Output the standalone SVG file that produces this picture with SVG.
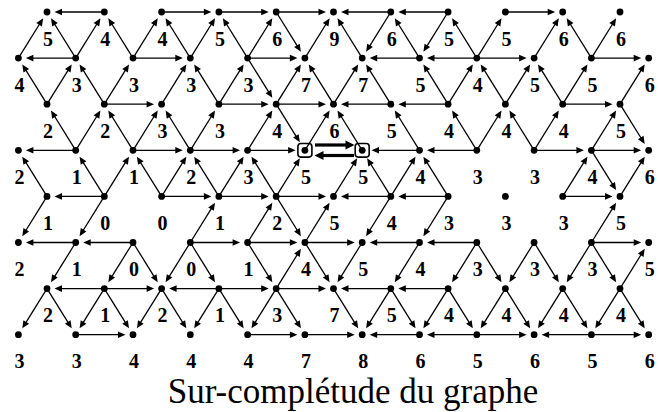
<svg xmlns="http://www.w3.org/2000/svg" width="658" height="412" viewBox="0 0 658 412">
<style>
.n circle{fill:#000}
.n text{font-family:"Liberation Serif","Times New Roman",serif;font-weight:bold;font-size:20px;text-anchor:middle;fill:#000}
.title{font-family:"Liberation Serif","Times New Roman",serif;font-size:35px;text-anchor:middle;fill:#000}
.box{fill:none;stroke:#000;stroke-width:1.6}
</style>
<defs>
<g id="h"><line x1="0" y1="0" x2="44" y2="0" stroke="#000" stroke-width="1.3"/><path d="M49.8 0L42.3 -3.3L42.3 3.3Z" fill="#000"/></g>
<g id="h2"><line x1="0" y1="0" x2="42" y2="0" stroke="#000" stroke-width="1.3"/><path d="M48 0L40.5 -3.3L40.5 3.3Z" fill="#000"/></g>
<g id="d"><line x1="0" y1="0" x2="41" y2="0" stroke="#000" stroke-width="1.3"/><path d="M46.8 0L39.3 -3.3L39.3 3.3Z" fill="#000"/></g>
<g id="d2"><line x1="0" y1="0" x2="39" y2="0" stroke="#000" stroke-width="1.3"/><path d="M44.8 0L37.3 -3.3L37.3 3.3Z" fill="#000"/></g>
</defs>
<rect width="658" height="412" fill="#fff"/>
<g id="connectors">
<use href="#h" transform="translate(104.3,12) rotate(180)"/>
<use href="#h" transform="translate(161.6,12)"/>
<use href="#h" transform="translate(218.9,12)"/>
<use href="#h" transform="translate(276.2,12)"/>
<use href="#h" transform="translate(390.8,12) rotate(180)"/>
<use href="#h" transform="translate(448.1,12) rotate(180)"/>
<use href="#h" transform="translate(505.4,12)"/>
<use href="#d" transform="translate(18.4,58.1) rotate(-58.14)"/>
<use href="#d" transform="translate(75.7,58.1) rotate(-121.86)"/>
<use href="#d" transform="translate(75.7,58.1) rotate(-58.14)"/>
<use href="#d" transform="translate(133,58.1) rotate(-121.86)"/>
<use href="#d" transform="translate(133,58.1) rotate(-58.14)"/>
<use href="#d" transform="translate(190.3,58.1) rotate(-121.86)"/>
<use href="#d" transform="translate(190.3,58.1) rotate(-58.14)"/>
<use href="#d" transform="translate(247.6,58.1) rotate(-121.86)"/>
<use href="#d" transform="translate(247.6,58.1) rotate(-58.14)"/>
<use href="#d" transform="translate(276.2,12) rotate(58.14)"/>
<use href="#d" transform="translate(304.9,58.1) rotate(-58.14)"/>
<use href="#d" transform="translate(362.2,58.1) rotate(-121.86)"/>
<use href="#d" transform="translate(390.8,12) rotate(121.86)"/>
<use href="#d" transform="translate(419.5,58.1) rotate(-121.86)"/>
<use href="#d" transform="translate(448.1,12) rotate(121.86)"/>
<use href="#d" transform="translate(476.8,58.1) rotate(-121.86)"/>
<use href="#d" transform="translate(476.8,58.1) rotate(-58.14)"/>
<use href="#d" transform="translate(534.1,58.1) rotate(-58.14)"/>
<use href="#d" transform="translate(591.4,58.1) rotate(-121.86)"/>
<use href="#d" transform="translate(591.4,58.1) rotate(-58.14)"/>
<use href="#h" transform="translate(75.7,58.1) rotate(180)"/>
<use href="#h" transform="translate(133,58.1)"/>
<use href="#h" transform="translate(247.6,58.1)"/>
<use href="#h" transform="translate(419.5,58.1) rotate(180)"/>
<use href="#h" transform="translate(476.8,58.1) rotate(180)"/>
<use href="#h" transform="translate(476.8,58.1)"/>
<use href="#h" transform="translate(591.4,58.1)"/>
<use href="#d" transform="translate(47,104.2) rotate(-121.86)"/>
<use href="#d" transform="translate(47,104.2) rotate(-58.14)"/>
<use href="#d" transform="translate(104.3,104.2) rotate(-121.86)"/>
<use href="#d" transform="translate(104.3,104.2) rotate(-58.14)"/>
<use href="#d" transform="translate(161.6,104.2) rotate(-58.14)"/>
<use href="#d" transform="translate(218.9,104.2) rotate(-121.86)"/>
<use href="#d" transform="translate(218.9,104.2) rotate(-58.14)"/>
<use href="#d" transform="translate(247.6,58.1) rotate(58.14)"/>
<use href="#d" transform="translate(276.2,104.2) rotate(-58.14)"/>
<use href="#d" transform="translate(333.5,104.2) rotate(-121.86)"/>
<use href="#d" transform="translate(333.5,104.2) rotate(-58.14)"/>
<use href="#d" transform="translate(390.8,104.2) rotate(-121.86)"/>
<use href="#d" transform="translate(448.1,104.2) rotate(-121.86)"/>
<use href="#d" transform="translate(448.1,104.2) rotate(-58.14)"/>
<use href="#d" transform="translate(505.4,104.2) rotate(-121.86)"/>
<use href="#d" transform="translate(505.4,104.2) rotate(-58.14)"/>
<use href="#d" transform="translate(562.7,104.2) rotate(-121.86)"/>
<use href="#d" transform="translate(562.7,104.2) rotate(-58.14)"/>
<use href="#d" transform="translate(620,104.2) rotate(-58.14)"/>
<use href="#h" transform="translate(104.3,104.2)"/>
<use href="#h" transform="translate(218.9,104.2)"/>
<use href="#h" transform="translate(276.2,104.2)"/>
<use href="#h" transform="translate(390.8,104.2) rotate(180)"/>
<use href="#h" transform="translate(448.1,104.2) rotate(180)"/>
<use href="#h" transform="translate(562.7,104.2)"/>
<use href="#d" transform="translate(75.7,150.3) rotate(-121.86)"/>
<use href="#d" transform="translate(75.7,150.3) rotate(-58.14)"/>
<use href="#d" transform="translate(133,150.3) rotate(-121.86)"/>
<use href="#d" transform="translate(133,150.3) rotate(-58.14)"/>
<use href="#d" transform="translate(190.3,150.3) rotate(-121.86)"/>
<use href="#d" transform="translate(190.3,150.3) rotate(-58.14)"/>
<use href="#d" transform="translate(247.6,150.3) rotate(-58.14)"/>
<use href="#d2" transform="translate(276.2,104.2) rotate(58.14)"/>
<use href="#d" transform="translate(304.9,150.3) rotate(-58.14)"/>
<use href="#d" transform="translate(362.2,150.3) rotate(-121.86)"/>
<use href="#d" transform="translate(419.5,150.3) rotate(-121.86)"/>
<use href="#d" transform="translate(476.8,150.3) rotate(-121.86)"/>
<use href="#d" transform="translate(476.8,150.3) rotate(-58.14)"/>
<use href="#d" transform="translate(534.1,150.3) rotate(-121.86)"/>
<use href="#d" transform="translate(534.1,150.3) rotate(-58.14)"/>
<use href="#d" transform="translate(591.4,150.3) rotate(-58.14)"/>
<use href="#d" transform="translate(620,104.2) rotate(58.14)"/>
<use href="#h" transform="translate(75.7,150.3) rotate(180)"/>
<use href="#h" transform="translate(133,150.3)"/>
<use href="#h" transform="translate(190.3,150.3)"/>
<use href="#h2" transform="translate(247.6,150.3)"/>
<use href="#h2" transform="translate(419.5,150.3) rotate(180)"/>
<use href="#h" transform="translate(476.8,150.3) rotate(180)"/>
<use href="#h" transform="translate(534.1,150.3)"/>
<use href="#h" transform="translate(591.4,150.3)"/>
<line x1="315" y1="145" x2="347" y2="145" stroke="#000" stroke-width="3.2"/>
<path d="M354.5 145L345.5 140.5L345.5 149.5Z" fill="#000"/>
<line x1="322" y1="155.5" x2="354" y2="155.5" stroke="#000" stroke-width="3.2"/>
<path d="M314.5 155.5L323.5 151L323.5 160Z" fill="#000"/>
<use href="#d" transform="translate(47,196.4) rotate(-121.86)"/>
<use href="#d" transform="translate(104.3,196.4) rotate(-121.86)"/>
<use href="#d" transform="translate(104.3,196.4) rotate(-58.14)"/>
<use href="#d" transform="translate(161.6,196.4) rotate(-121.86)"/>
<use href="#d" transform="translate(161.6,196.4) rotate(-58.14)"/>
<use href="#d" transform="translate(218.9,196.4) rotate(-121.86)"/>
<use href="#d" transform="translate(218.9,196.4) rotate(-58.14)"/>
<use href="#d" transform="translate(276.2,196.4) rotate(-121.86)"/>
<use href="#d2" transform="translate(276.2,196.4) rotate(-58.14)"/>
<use href="#d2" transform="translate(333.5,196.4) rotate(-58.14)"/>
<use href="#d2" transform="translate(390.8,196.4) rotate(-121.86)"/>
<use href="#d" transform="translate(390.8,196.4) rotate(-58.14)"/>
<use href="#d" transform="translate(448.1,196.4) rotate(-121.86)"/>
<use href="#d" transform="translate(562.7,196.4) rotate(-58.14)"/>
<use href="#d" transform="translate(591.4,150.3) rotate(58.14)"/>
<use href="#d" transform="translate(620,196.4) rotate(-58.14)"/>
<use href="#h" transform="translate(104.3,196.4) rotate(180)"/>
<use href="#h" transform="translate(161.6,196.4)"/>
<use href="#h" transform="translate(218.9,196.4)"/>
<use href="#h" transform="translate(276.2,196.4)"/>
<use href="#h" transform="translate(390.8,196.4) rotate(180)"/>
<use href="#h" transform="translate(448.1,196.4) rotate(180)"/>
<use href="#h" transform="translate(562.7,196.4)"/>
<use href="#d" transform="translate(47,196.4) rotate(121.86)"/>
<use href="#d" transform="translate(104.3,196.4) rotate(121.86)"/>
<use href="#d" transform="translate(190.3,242.5) rotate(-58.14)"/>
<use href="#d" transform="translate(247.6,242.5) rotate(-58.14)"/>
<use href="#d" transform="translate(276.2,196.4) rotate(58.14)"/>
<use href="#d" transform="translate(304.9,242.5) rotate(-58.14)"/>
<use href="#d" transform="translate(390.8,196.4) rotate(121.86)"/>
<use href="#d" transform="translate(448.1,196.4) rotate(121.86)"/>
<use href="#d" transform="translate(591.4,242.5) rotate(-58.14)"/>
<use href="#h" transform="translate(75.7,242.5) rotate(180)"/>
<use href="#h" transform="translate(133,242.5) rotate(180)"/>
<use href="#h" transform="translate(190.3,242.5)"/>
<use href="#h" transform="translate(247.6,242.5)"/>
<use href="#h" transform="translate(304.9,242.5)"/>
<use href="#h" transform="translate(419.5,242.5) rotate(180)"/>
<use href="#h" transform="translate(476.8,242.5) rotate(180)"/>
<use href="#h" transform="translate(591.4,242.5)"/>
<use href="#d" transform="translate(75.7,242.5) rotate(121.86)"/>
<use href="#d" transform="translate(133,242.5) rotate(121.86)"/>
<use href="#d" transform="translate(133,242.5) rotate(58.14)"/>
<use href="#d" transform="translate(190.3,242.5) rotate(121.86)"/>
<use href="#d" transform="translate(190.3,242.5) rotate(58.14)"/>
<use href="#d" transform="translate(247.6,242.5) rotate(58.14)"/>
<use href="#d" transform="translate(276.2,288.6) rotate(-58.14)"/>
<use href="#d" transform="translate(304.9,242.5) rotate(58.14)"/>
<use href="#d" transform="translate(362.2,242.5) rotate(121.86)"/>
<use href="#d" transform="translate(419.5,242.5) rotate(121.86)"/>
<use href="#d" transform="translate(476.8,242.5) rotate(121.86)"/>
<use href="#d" transform="translate(476.8,242.5) rotate(58.14)"/>
<use href="#d" transform="translate(534.1,242.5) rotate(121.86)"/>
<use href="#d" transform="translate(534.1,242.5) rotate(58.14)"/>
<use href="#d" transform="translate(591.4,242.5) rotate(121.86)"/>
<use href="#d" transform="translate(591.4,242.5) rotate(58.14)"/>
<use href="#d" transform="translate(620,288.6) rotate(-58.14)"/>
<use href="#h" transform="translate(104.3,288.6) rotate(180)"/>
<use href="#h" transform="translate(104.3,288.6)"/>
<use href="#h" transform="translate(218.9,288.6) rotate(180)"/>
<use href="#h" transform="translate(218.9,288.6)"/>
<use href="#h" transform="translate(276.2,288.6)"/>
<use href="#h" transform="translate(390.8,288.6) rotate(180)"/>
<use href="#h" transform="translate(448.1,288.6) rotate(180)"/>
<use href="#d" transform="translate(47,288.6) rotate(121.86)"/>
<use href="#d" transform="translate(47,288.6) rotate(58.14)"/>
<use href="#d" transform="translate(104.3,288.6) rotate(121.86)"/>
<use href="#d" transform="translate(104.3,288.6) rotate(58.14)"/>
<use href="#d" transform="translate(161.6,288.6) rotate(121.86)"/>
<use href="#d" transform="translate(161.6,288.6) rotate(58.14)"/>
<use href="#d" transform="translate(218.9,288.6) rotate(121.86)"/>
<use href="#d" transform="translate(218.9,288.6) rotate(58.14)"/>
<use href="#d" transform="translate(276.2,288.6) rotate(121.86)"/>
<use href="#d" transform="translate(276.2,288.6) rotate(58.14)"/>
<use href="#d" transform="translate(333.5,288.6) rotate(58.14)"/>
<use href="#d" transform="translate(390.8,288.6) rotate(121.86)"/>
<use href="#d" transform="translate(390.8,288.6) rotate(58.14)"/>
<use href="#d" transform="translate(448.1,288.6) rotate(121.86)"/>
<use href="#d" transform="translate(448.1,288.6) rotate(58.14)"/>
<use href="#d" transform="translate(505.4,288.6) rotate(121.86)"/>
<use href="#d" transform="translate(505.4,288.6) rotate(58.14)"/>
<use href="#d" transform="translate(562.7,288.6) rotate(121.86)"/>
<use href="#d" transform="translate(562.7,288.6) rotate(58.14)"/>
<use href="#d" transform="translate(620,288.6) rotate(121.86)"/>
<use href="#d" transform="translate(620,288.6) rotate(58.14)"/>
<use href="#h" transform="translate(75.7,334.7)"/>
<use href="#h" transform="translate(247.6,334.7)"/>
<use href="#h" transform="translate(304.9,334.7)"/>
<use href="#h" transform="translate(419.5,334.7) rotate(180)"/>
<use href="#h" transform="translate(476.8,334.7) rotate(180)"/>
<use href="#h" transform="translate(476.8,334.7)"/>
<use href="#h" transform="translate(591.4,334.7) rotate(180)"/>
<use href="#h" transform="translate(591.4,334.7)"/>
</g>
<g class="n" id="A0" transform="translate(47,12)"><circle r="3.4"/><text x="1" y="33.5">5</text></g>
<g class="n" id="A1" transform="translate(104.3,12)"><circle r="3.4"/><text x="1" y="33.5">4</text></g>
<g class="n" id="A2" transform="translate(161.6,12)"><circle r="3.4"/><text x="1" y="33.5">4</text></g>
<g class="n" id="A3" transform="translate(218.9,12)"><circle r="3.4"/><text x="1" y="33.5">5</text></g>
<g class="n" id="A4" transform="translate(276.2,12)"><circle r="3.4"/><text x="1" y="33.5">6</text></g>
<g class="n" id="A5" transform="translate(333.5,12)"><circle r="3.4"/><text x="1" y="33.5">9</text></g>
<g class="n" id="A6" transform="translate(390.8,12)"><circle r="3.4"/><text x="1" y="33.5">6</text></g>
<g class="n" id="A7" transform="translate(448.1,12)"><circle r="3.4"/><text x="1" y="33.5">5</text></g>
<g class="n" id="A8" transform="translate(505.4,12)"><circle r="3.4"/><text x="1" y="33.5">5</text></g>
<g class="n" id="A9" transform="translate(562.7,12)"><circle r="3.4"/><text x="1" y="33.5">6</text></g>
<g class="n" id="A10" transform="translate(620,12)"><circle r="3.4"/><text x="1" y="33.5">6</text></g>
<g class="n" id="B0" transform="translate(18.4,58.1)"><circle r="3.4"/><text x="1" y="33.5">4</text></g>
<g class="n" id="B1" transform="translate(75.7,58.1)"><circle r="3.4"/><text x="1" y="33.5">3</text></g>
<g class="n" id="B2" transform="translate(133,58.1)"><circle r="3.4"/><text x="1" y="33.5">3</text></g>
<g class="n" id="B3" transform="translate(190.3,58.1)"><circle r="3.4"/><text x="1" y="33.5">3</text></g>
<g class="n" id="B4" transform="translate(247.6,58.1)"><circle r="3.4"/><text x="1" y="33.5">3</text></g>
<g class="n" id="B5" transform="translate(304.9,58.1)"><circle r="3.4"/><text x="1" y="33.5">7</text></g>
<g class="n" id="B6" transform="translate(362.2,58.1)"><circle r="3.4"/><text x="1" y="33.5">7</text></g>
<g class="n" id="B7" transform="translate(419.5,58.1)"><circle r="3.4"/><text x="1" y="33.5">5</text></g>
<g class="n" id="B8" transform="translate(476.8,58.1)"><circle r="3.4"/><text x="1" y="33.5">4</text></g>
<g class="n" id="B9" transform="translate(534.1,58.1)"><circle r="3.4"/><text x="1" y="33.5">5</text></g>
<g class="n" id="B10" transform="translate(591.4,58.1)"><circle r="3.4"/><text x="1" y="33.5">5</text></g>
<g class="n" id="B11" transform="translate(648.7,58.1)"><circle r="3.4"/><text x="1" y="33.5">6</text></g>
<g class="n" id="C0" transform="translate(47,104.2)"><circle r="3.4"/><text x="1" y="33.5">2</text></g>
<g class="n" id="C1" transform="translate(104.3,104.2)"><circle r="3.4"/><text x="1" y="33.5">2</text></g>
<g class="n" id="C2" transform="translate(161.6,104.2)"><circle r="3.4"/><text x="1" y="33.5">3</text></g>
<g class="n" id="C3" transform="translate(218.9,104.2)"><circle r="3.4"/><text x="1" y="33.5">3</text></g>
<g class="n" id="C4" transform="translate(276.2,104.2)"><circle r="3.4"/><text x="1" y="33.5">4</text></g>
<g class="n" id="C5" transform="translate(333.5,104.2)"><circle r="3.4"/><text x="1" y="33.5">6</text></g>
<g class="n" id="C6" transform="translate(390.8,104.2)"><circle r="3.4"/><text x="1" y="33.5">5</text></g>
<g class="n" id="C7" transform="translate(448.1,104.2)"><circle r="3.4"/><text x="1" y="33.5">4</text></g>
<g class="n" id="C8" transform="translate(505.4,104.2)"><circle r="3.4"/><text x="1" y="33.5">4</text></g>
<g class="n" id="C9" transform="translate(562.7,104.2)"><circle r="3.4"/><text x="1" y="33.5">4</text></g>
<g class="n" id="C10" transform="translate(620,104.2)"><circle r="3.4"/><text x="1" y="33.5">5</text></g>
<g class="n" id="D0" transform="translate(18.4,150.3)"><circle r="3.4"/><text x="1" y="33.5">2</text></g>
<g class="n" id="D1" transform="translate(75.7,150.3)"><circle r="3.4"/><text x="1" y="33.5">1</text></g>
<g class="n" id="D2" transform="translate(133,150.3)"><circle r="3.4"/><text x="1" y="33.5">1</text></g>
<g class="n" id="D3" transform="translate(190.3,150.3)"><circle r="3.4"/><text x="1" y="33.5">2</text></g>
<g class="n" id="D4" transform="translate(247.6,150.3)"><circle r="3.4"/><text x="1" y="33.5">3</text></g>
<g class="n" id="D5" transform="translate(304.9,150.3)"><rect class="box" x="-7" y="-6.8" width="14" height="13.6" rx="3"/><circle r="3.4"/><text x="1" y="33.5">5</text></g>
<g class="n" id="D6" transform="translate(362.2,150.3)"><rect class="box" x="-7" y="-6.8" width="14" height="13.6" rx="3"/><circle r="3.4"/><text x="1" y="33.5">5</text></g>
<g class="n" id="D7" transform="translate(419.5,150.3)"><circle r="3.4"/><text x="1" y="33.5">4</text></g>
<g class="n" id="D8" transform="translate(476.8,150.3)"><circle r="3.4"/><text x="1" y="33.5">3</text></g>
<g class="n" id="D9" transform="translate(534.1,150.3)"><circle r="3.4"/><text x="1" y="33.5">3</text></g>
<g class="n" id="D10" transform="translate(591.4,150.3)"><circle r="3.4"/><text x="1" y="33.5">4</text></g>
<g class="n" id="D11" transform="translate(648.7,150.3)"><circle r="3.4"/><text x="1" y="33.5">6</text></g>
<g class="n" id="E0" transform="translate(47,196.4)"><circle r="3.4"/><text x="1" y="33.5">1</text></g>
<g class="n" id="E1" transform="translate(104.3,196.4)"><circle r="3.4"/><text x="1" y="33.5">0</text></g>
<g class="n" id="E2" transform="translate(161.6,196.4)"><circle r="3.4"/><text x="1" y="33.5">0</text></g>
<g class="n" id="E3" transform="translate(218.9,196.4)"><circle r="3.4"/><text x="1" y="33.5">1</text></g>
<g class="n" id="E4" transform="translate(276.2,196.4)"><circle r="3.4"/><text x="1" y="33.5">2</text></g>
<g class="n" id="E5" transform="translate(333.5,196.4)"><circle r="3.4"/><text x="1" y="33.5">5</text></g>
<g class="n" id="E6" transform="translate(390.8,196.4)"><circle r="3.4"/><text x="1" y="33.5">4</text></g>
<g class="n" id="E7" transform="translate(448.1,196.4)"><circle r="3.4"/><text x="1" y="33.5">3</text></g>
<g class="n" id="E8" transform="translate(505.4,196.4)"><circle r="3.4"/><text x="1" y="33.5">3</text></g>
<g class="n" id="E9" transform="translate(562.7,196.4)"><circle r="3.4"/><text x="1" y="33.5">3</text></g>
<g class="n" id="E10" transform="translate(620,196.4)"><circle r="3.4"/><text x="1" y="33.5">5</text></g>
<g class="n" id="F0" transform="translate(18.4,242.5)"><circle r="3.4"/><text x="1" y="33.5">2</text></g>
<g class="n" id="F1" transform="translate(75.7,242.5)"><circle r="3.4"/><text x="1" y="33.5">1</text></g>
<g class="n" id="F2" transform="translate(133,242.5)"><circle r="3.4"/><text x="1" y="33.5">0</text></g>
<g class="n" id="F3" transform="translate(190.3,242.5)"><circle r="3.4"/><text x="1" y="33.5">0</text></g>
<g class="n" id="F4" transform="translate(247.6,242.5)"><circle r="3.4"/><text x="1" y="33.5">1</text></g>
<g class="n" id="F5" transform="translate(304.9,242.5)"><circle r="3.4"/><text x="1" y="33.5">4</text></g>
<g class="n" id="F6" transform="translate(362.2,242.5)"><circle r="3.4"/><text x="1" y="33.5">5</text></g>
<g class="n" id="F7" transform="translate(419.5,242.5)"><circle r="3.4"/><text x="1" y="33.5">4</text></g>
<g class="n" id="F8" transform="translate(476.8,242.5)"><circle r="3.4"/><text x="1" y="33.5">3</text></g>
<g class="n" id="F9" transform="translate(534.1,242.5)"><circle r="3.4"/><text x="1" y="33.5">3</text></g>
<g class="n" id="F10" transform="translate(591.4,242.5)"><circle r="3.4"/><text x="1" y="33.5">3</text></g>
<g class="n" id="F11" transform="translate(648.7,242.5)"><circle r="3.4"/><text x="1" y="33.5">5</text></g>
<g class="n" id="G0" transform="translate(47,288.6)"><circle r="3.4"/><text x="1" y="33.5">2</text></g>
<g class="n" id="G1" transform="translate(104.3,288.6)"><circle r="3.4"/><text x="1" y="33.5">1</text></g>
<g class="n" id="G2" transform="translate(161.6,288.6)"><circle r="3.4"/><text x="1" y="33.5">2</text></g>
<g class="n" id="G3" transform="translate(218.9,288.6)"><circle r="3.4"/><text x="1" y="33.5">1</text></g>
<g class="n" id="G4" transform="translate(276.2,288.6)"><circle r="3.4"/><text x="1" y="33.5">3</text></g>
<g class="n" id="G5" transform="translate(333.5,288.6)"><circle r="3.4"/><text x="1" y="33.5">7</text></g>
<g class="n" id="G6" transform="translate(390.8,288.6)"><circle r="3.4"/><text x="1" y="33.5">5</text></g>
<g class="n" id="G7" transform="translate(448.1,288.6)"><circle r="3.4"/><text x="1" y="33.5">4</text></g>
<g class="n" id="G8" transform="translate(505.4,288.6)"><circle r="3.4"/><text x="1" y="33.5">4</text></g>
<g class="n" id="G9" transform="translate(562.7,288.6)"><circle r="3.4"/><text x="1" y="33.5">4</text></g>
<g class="n" id="G10" transform="translate(620,288.6)"><circle r="3.4"/><text x="1" y="33.5">4</text></g>
<g class="n" id="H0" transform="translate(18.4,334.7)"><circle r="3.4"/><text x="1" y="33.5">3</text></g>
<g class="n" id="H1" transform="translate(75.7,334.7)"><circle r="3.4"/><text x="1" y="33.5">3</text></g>
<g class="n" id="H2" transform="translate(133,334.7)"><circle r="3.4"/><text x="1" y="33.5">4</text></g>
<g class="n" id="H3" transform="translate(190.3,334.7)"><circle r="3.4"/><text x="1" y="33.5">4</text></g>
<g class="n" id="H4" transform="translate(247.6,334.7)"><circle r="3.4"/><text x="1" y="33.5">4</text></g>
<g class="n" id="H5" transform="translate(304.9,334.7)"><circle r="3.4"/><text x="1" y="33.5">7</text></g>
<g class="n" id="H6" transform="translate(362.2,334.7)"><circle r="3.4"/><text x="1" y="33.5">8</text></g>
<g class="n" id="H7" transform="translate(419.5,334.7)"><circle r="3.4"/><text x="1" y="33.5">6</text></g>
<g class="n" id="H8" transform="translate(476.8,334.7)"><circle r="3.4"/><text x="1" y="33.5">5</text></g>
<g class="n" id="H9" transform="translate(534.1,334.7)"><circle r="3.4"/><text x="1" y="33.5">6</text></g>
<g class="n" id="H10" transform="translate(591.4,334.7)"><circle r="3.4"/><text x="1" y="33.5">5</text></g>
<g class="n" id="H11" transform="translate(648.7,334.7)"><circle r="3.4"/><text x="1" y="33.5">6</text></g>
<text class="title" x="353" y="403">Sur-complétude du graphe</text>
</svg>
